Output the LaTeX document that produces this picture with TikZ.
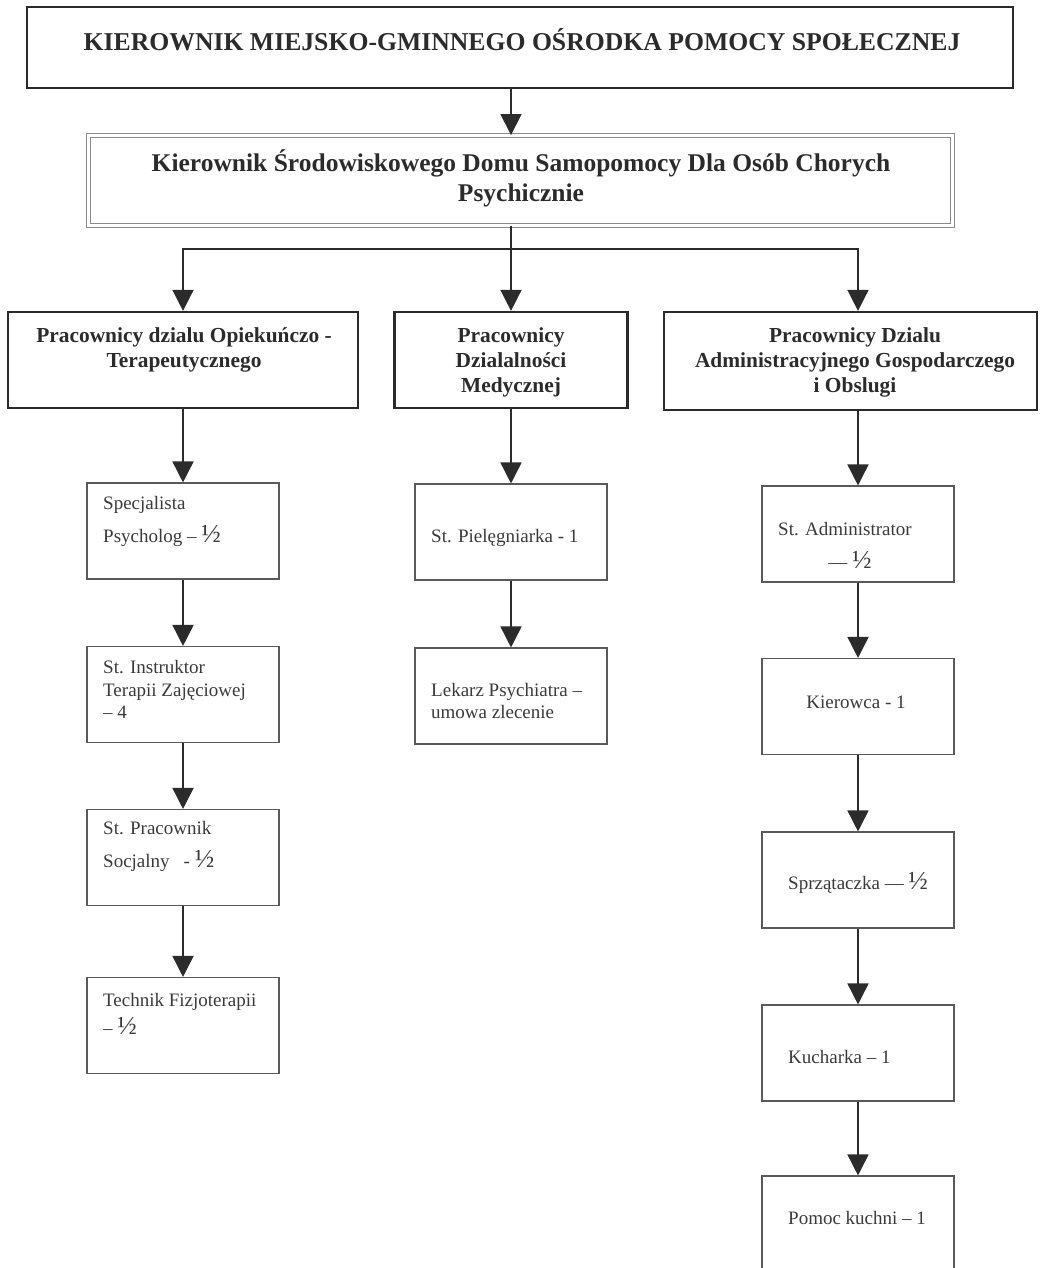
\documentclass[tikz,border=0pt]{standalone}
\usepackage{fontspec}
\setmainfont{Liberation Serif}
\usetikzlibrary{arrows.meta}
\definecolor{ink}{HTML}{2B2B2B}
\definecolor{boxgray}{HTML}{5A5A5A}
\definecolor{txtgray}{HTML}{3A3A3A}
\definecolor{dblgray}{HTML}{8A8A8A}
\newcommand{\halfglyph}{{\fontsize{26}{26}\selectfont ½}}
\begin{document}
\begin{tikzpicture}[x=1pt,y=-1pt,
  topbox/.style={draw=ink, line width=2pt, inner sep=0pt, minimum width=986pt, minimum height=81pt},
  headbox/.style={draw=dblgray, line width=0.9pt, double, double distance=3pt, inner sep=0pt, minimum width=864pt, minimum height=90pt},
  deptbox/.style={draw=ink, line width=2.2pt, inner sep=0pt, minimum height=96pt},
  sbox/.style={draw=boxgray, line width=1.1pt, inner sep=0pt, minimum width=192pt, minimum height=96pt},
  titletxt/.style={font=\bfseries\fontsize{25.7}{28}\selectfont, text=ink, inner sep=0pt},
  headtxt/.style={font=\bfseries\fontsize{25.5}{30}\selectfont, text=ink, align=center, inner sep=0pt},
  depttxt/.style={font=\bfseries\fontsize{21.4}{25}\selectfont, text=ink, align=center, inner sep=0pt},
  stxt/.style={font=\fontsize{19}{22.5}\selectfont, text=txtgray, align=left, inner sep=0pt, anchor=west},
  ctxt/.style={font=\fontsize{19}{22.5}\selectfont, text=txtgray, inner sep=0pt},
  conn/.style={draw=ink, line width=1.6pt},
  arr/.style={conn, -{Triangle[width=21pt,length=21pt]}}
]
\useasboundingbox (0,0) rectangle (1040,1268);
\clip (0,0) rectangle (1040,1268);

% top level
\node[topbox] (top) at (520,47.5) {};
\node[titletxt] (toptxt) at (522,40) {KIEROWNIK MIEJSKO-GMINNEGO OŚRODKA POMOCY SPOŁECZNEJ};

\node[headbox] (head) at (520.5,180.5) {};
\node[headtxt] (headtxt) at (521,178) {Kierownik Środowiskowego Domu Samopomocy Dla Osób Chorych\\Psychicznie};

% departments
\node[deptbox, minimum width=350pt] (left) at (183,360) {};
\node[deptbox, minimum width=233pt] (mid) at (511,360) {};
\node[deptbox, minimum width=373pt, minimum height=98pt] (right) at (850.5,361) {};
\node[depttxt] (lefttxt) at (184,349.5) {Pracownicy dzialu Opiekuńczo -\\Terapeutycznego};
\node[depttxt] (midtxt) at (511,362) {Pracownicy\\Dzialalności\\Medycznej};
\node[depttxt] (righttxt) at (855,362) {Pracownicy Dzialu\\Administracyjnego Gospodarczego\\i Obslugi};

% left column
\node[sbox] (L1) at (183,531) {};
\node[sbox] (L2) at (183,694.5) {};
\node[sbox] (L3) at (183,857.5) {};
\node[sbox] (L4) at (183,1025.5) {};
\node[stxt] (L1t) at (103,521.5) {Specjalista\\[10.5pt]Psycholog – \halfglyph};
\node[stxt] (L2t) at (103,689.5) {St. Instruktor\\Terapii Zajęciowej\\– 4};
\node[stxt] (L3t) at (103,846.5) {St. Pracownik\\[10.5pt]Socjalny\hspace{14pt}- \halfglyph};
\node[stxt] (L4t) at (103,1014) {Technik Fizjoterapii\\[5.5pt]– \halfglyph};

% middle column
\node[sbox] (M1) at (511,532) {};
\node[sbox] (M2) at (511,696) {};
\node[stxt] (M1t) at (431,538) {St. Pielęgniarka - 1};
\node[stxt] (M2t) at (431,701) {Lekarz Psychiatra –\\umowa zlecenie};

% right column
\node[sbox] (R1) at (858,534) {};
\node[sbox] (R2) at (858,706.5) {};
\node[sbox] (R3) at (858,880) {};
\node[sbox] (R4) at (858,1053) {};
\node[sbox] (R5) at (858,1224) {};
\node[stxt] (R1t) at (778,529) {St. Administrator};
\node[ctxt] (R1u) at (850,560) {— \halfglyph};
\node[ctxt] (R2t) at (856,702) {Kierowca - 1};
\node[stxt] (R3t) at (788,883) {Sprzątaczka — \halfglyph};
\node[stxt] (R4t) at (788,1057) {Kucharka – 1};
\node[stxt] (R5t) at (788,1218) {Pomoc kuchni – 1};

% connectors
\coordinate (bus) at (511,249);
\draw[arr] (top.south -| bus) -- (head.north -| bus);
\draw[arr] (head.south -| bus) -- (mid.north);
\draw[arr] (bus) -| (left.north);
\draw[arr] (bus) -| (R1.north |- right.north);

\draw[arr] (left.south) -- (L1.north);
\draw[arr] (L1) -- (L2);
\draw[arr] (L2) -- (L3);
\draw[arr] (L3) -- (L4);

\draw[arr] (mid.south) -- (M1.north);
\draw[arr] (M1) -- (M2);

\draw[arr] (right.south -| R1.north) -- (R1.north);
\draw[arr] (R1) -- (R2);
\draw[arr] (R2) -- (R3);
\draw[arr] (R3) -- (R4);
\draw[arr] (R4) -- (R5);
\end{tikzpicture}
\end{document}
